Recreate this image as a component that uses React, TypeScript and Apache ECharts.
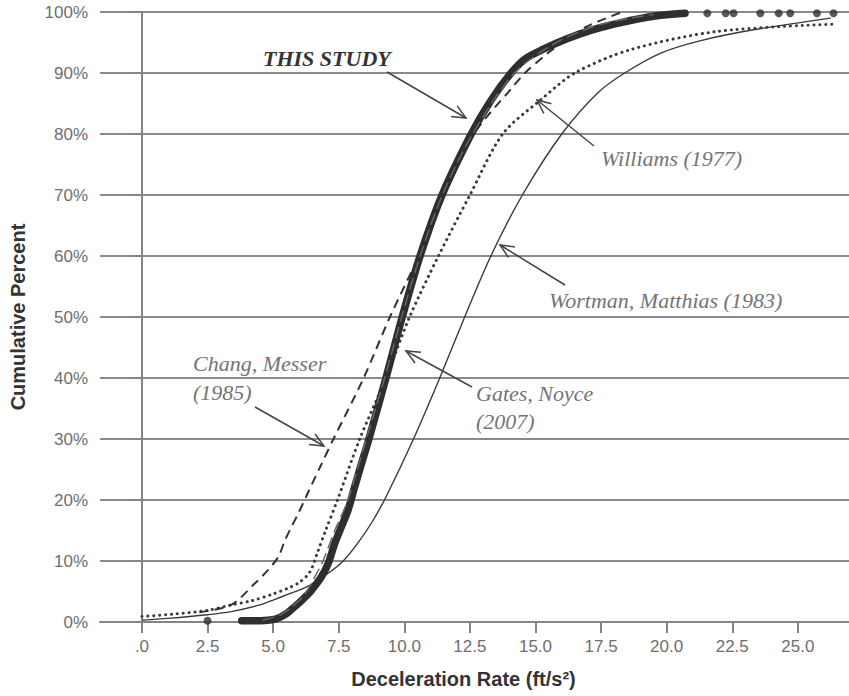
import React, { useEffect, useRef } from "react";
import * as echarts from "echarts";

// ---- data ----
const xTicks = [0, 2.5, 5, 7.5, 10, 12.5, 15, 17.5, 20, 22.5, 25];

const thisStudyX = [3.8, 4.3, 4.8, 5.1, 5.45, 5.82, 6.15, 6.46, 6.84, 7.1, 7.35, 7.6, 7.86, 8.11, 8.37, 8.65, 9.3, 9.92, 10.6, 11.44, 12.55, 13.3, 14.07, 14.6, 15.3, 16.2, 17.2, 18.3, 19.5, 20.7];
const thisStudyY = [0.2, 0.2, 0.3, 0.5, 1.2, 2.5, 3.8, 5.2, 7.4, 9.6, 12.9, 15.6, 18.4, 22.2, 26, 30, 40, 50, 60, 70, 80, 85.5, 90, 92.3, 93.9, 95.6, 97.1, 98.3, 99.3, 99.8];
const thisStudyDotsX = [2.5, 21.55, 22.25, 22.55, 23.57, 24.27, 24.71, 25.73, 26.36];
const thisStudyDotsY = [0.2, 99.8, 99.8, 99.8, 99.8, 99.8, 99.8, 99.8, 99.8];

const gatesX = [4.6, 5.3, 5.8, 6.2, 6.6, 6.9, 7.35, 7.85, 8.55, 9.25, 9.9, 10.6, 11.45, 12.6, 14.2, 15.8, 17.5, 19.5];
const gatesY = [0.3, 1.2, 2.8, 4.5, 7.5, 10, 15, 20, 30, 40, 50, 60, 70, 80, 90, 95, 98, 99.6];

const changX = [2.2, 3.4, 4.3, 4.8, 5.2, 5.45, 5.7, 5.96, 6.25, 6.8, 7.3, 8.45, 9.45, 10.55, 11.5, 12.65, 14.07, 14.6, 15.45, 16.0, 16.9, 18.3];
const changY = [1.6, 2.8, 6.3, 8.5, 10.7, 13.4, 15.6, 17.8, 20.5, 25.5, 30, 40, 50, 60, 70, 80, 87.4, 90, 93.2, 94.9, 97.5, 100];

const williamsX = [0, 1.2, 2.5, 3.4, 4.2, 5.0, 5.6, 6.0, 6.4, 6.7, 7.0, 7.45, 8.3, 9.3, 10.2, 11.3, 12.5, 13.75, 15.2, 16.5, 18.6, 21.9, 26.3];
const williamsY = [0.9, 1.3, 1.9, 2.8, 3.5, 4.6, 5.6, 6.5, 8.2, 11.5, 15, 20, 30, 40, 50, 60, 70, 80, 85.6, 90, 93.8, 96.8, 98];

const wortmanX = [0, 1.0, 2.5, 3.4, 4.5, 5.0, 5.6, 6.3, 7.1, 7.67, 8.24, 8.8, 9.3, 10.35, 11.35, 12.3, 13.3, 14.5, 16.0, 17.36, 18.4, 19.8, 21.3, 23.2, 26.25];
const wortmanY = [0.3, 0.6, 1.2, 1.7, 2.8, 3.6, 4.6, 5.8, 8, 10, 13.0, 16.6, 20.5, 30, 40, 50, 60, 70, 80, 86.7, 90, 93.3, 95.3, 97, 99];

const pairs = (xs: number[], ys: number[]) => xs.map((x, i) => [x, ys[i]]);

function arrow(x1: number, y1: number, x2: number, y2: number) {
  const ang = Math.atan2(y2 - y1, x2 - x1);
  const L = 15;
  const a = 0.42;
  const p1 = [x2 - L * Math.cos(ang - a), y2 - L * Math.sin(ang - a)];
  const p2 = [x2 - L * Math.cos(ang + a), y2 - L * Math.sin(ang + a)];
  return [
    { type: "line", shape: { x1, y1, x2, y2 }, style: { stroke: "#444", lineWidth: 1.5 }, z: 10 },
    { type: "polyline", shape: { points: [p1, [x2, y2], p2] }, style: { stroke: "#444", lineWidth: 1.5, fill: null }, z: 10 },
  ];
}

function label(text: string, x: number, y: number, bold = false) {
  return {
    type: "text",
    x,
    y,
    z: 10,
    style: {
      text,
      fontFamily: '"Liberation Serif", "Times New Roman", serif',
      fontStyle: "italic",
      fontWeight: bold ? "bold" : "normal",
      fontSize: 22,
      fill: bold ? "#333" : "#747474",
      align: "left",
      verticalAlign: "middle",
    },
  };
}

export default function App() {
  const ref = useRef<HTMLDivElement>(null);
  useEffect(() => {
    if (!ref.current) return;
    const chart = echarts.init(ref.current, null, { renderer: "svg" });
    const axisGray = "#858585";
    const sans = '"Liberation Sans", Arial, Helvetica, sans-serif';
    const curve = { type: "line", showSymbol: false, smooth: 0.3 };
    chart.setOption({
      animation: false,
      backgroundColor: "#fff",
      grid: { left: 100, right: 0, top: 12, bottom: 74 },
      xAxis: {
        type: "value",
        min: -1.6,
        max: 26.95,
        name: "Deceleration Rate (ft/s²)",
        nameLocation: "middle",
        nameGap: 47,
        nameTextStyle: { fontFamily: sans, fontWeight: "bold", fontSize: 20, color: "#333", padding: [0, 22, 0, 0] },
        splitLine: { show: false },
        axisLine: { show: true, onZero: false, lineStyle: { color: axisGray, width: 2 } },
        axisTick: { show: true, customValues: xTicks, length: 11, lineStyle: { color: axisGray, width: 2 } },
        axisLabel: {
          customValues: xTicks,
          margin: 16,
          fontFamily: sans,
          fontSize: 17,
          color: "#6e6e6e",
          formatter: (v: number) => (v === 0 ? ".0" : v.toFixed(1)),
        },
      },
      yAxis: {
        type: "value",
        min: 0,
        max: 100,
        interval: 10,
        name: "Cumulative Percent",
        nameLocation: "middle",
        nameGap: 72,
        nameTextStyle: { fontFamily: sans, fontWeight: "bold", fontSize: 20, color: "#333" },
        axisLine: { show: true, lineStyle: { color: axisGray, width: 2 } },
        axisTick: { show: true, length: 10, lineStyle: { color: axisGray, width: 2 } },
        splitLine: { show: true, lineStyle: { color: "#8a8a8a", width: 2 } },
        axisLabel: {
          margin: 12,
          fontFamily: sans,
          fontSize: 17,
          color: "#6e6e6e",
          formatter: (v: number) => `${v}%`,
        },
      },
      series: [
        {
          ...curve,
          name: "Wortman, Matthias (1983)",
          data: pairs(wortmanX, wortmanY),
          lineStyle: { color: "#3a3a3a", width: 1.4 },
        },
        {
          ...curve,
          name: "Williams (1977)",
          data: pairs(williamsX, williamsY),
          lineStyle: { color: "#3a3a3a", width: 3, type: [0.1, 5.8], cap: "round" },
        },
        {
          ...curve,
          name: "Chang, Messer (1985)",
          data: pairs(changX, changY),
          lineStyle: { color: "#333", width: 2, type: [9, 6] },
        },
        {
          ...curve,
          name: "THIS STUDY",
          data: pairs(thisStudyX, thisStudyY),
          lineStyle: { color: "#2e2e2e", width: 7.5, cap: "round" },
        },
        {
          ...curve,
          name: "Gates, Noyce (2007)",
          data: pairs(gatesX, gatesY),
          lineStyle: { color: "#666", width: 1.5, type: [12, 5] },
        },
        {
          name: "THIS STUDY points",
          type: "scatter",
          data: pairs(thisStudyDotsX, thisStudyDotsY),
          symbolSize: 8,
          itemStyle: { color: "#2e2e2e" },
        },
      ],
      graphic: [
        label("THIS STUDY", 263, 58, true),
        ...arrow(387, 72, 466, 118),
        label("Williams (1977)", 601, 158),
        ...arrow(594, 146, 537, 100),
        label("Wortman, Matthias (1983)", 549, 300),
        ...arrow(565, 285, 500, 245),
        label("Gates, Noyce", 476, 393),
        label("(2007)", 476, 421),
        ...arrow(472, 387, 406, 351),
        label("Chang, Messer", 193, 363),
        label("(1985)", 193, 392),
        ...arrow(255, 407, 324, 446),
      ],
    });
    return () => chart.dispose();
  }, []);
  return (
    <div
      ref={ref}
      style={{ position: "fixed", left: 0, top: 0, width: 849, height: 696, background: "#fff" }}
    />
  );
}
